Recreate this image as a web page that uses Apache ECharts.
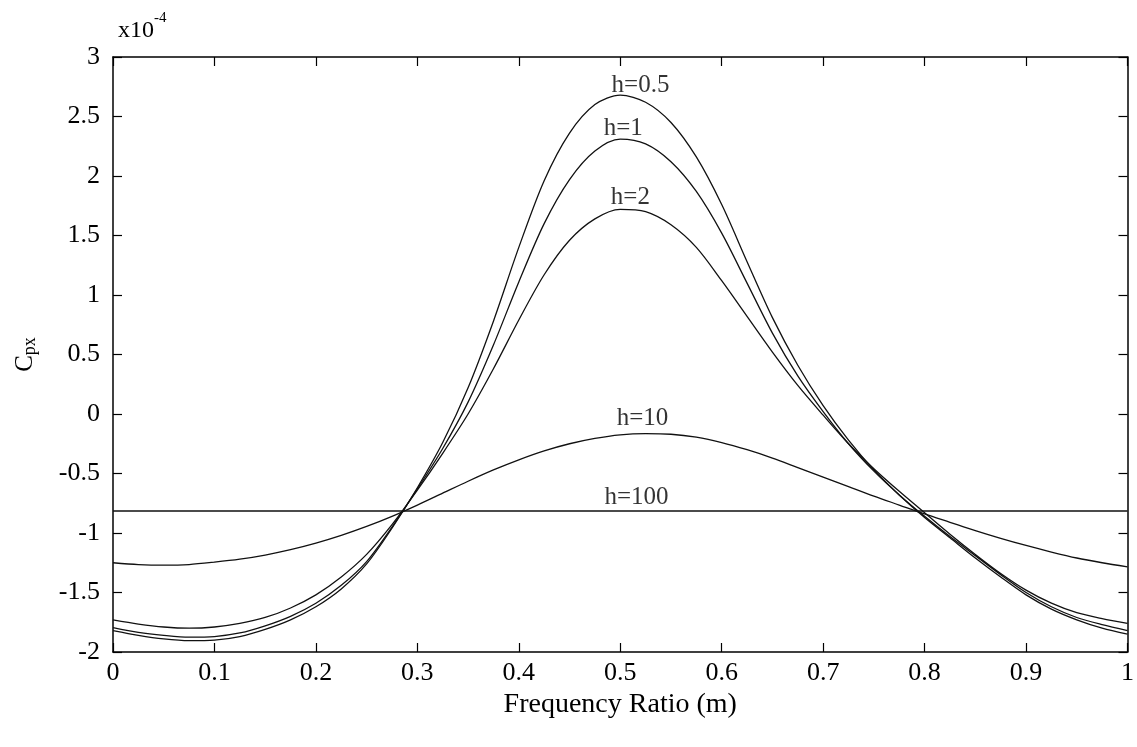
<!DOCTYPE html>
<html>
<head>
<meta charset="utf-8">
<script src="https://cdn.jsdelivr.net/npm/echarts@6/dist/echarts.min.js"></script>
<style>
html,body{margin:0;padding:0;background:#fff;}
#chart{width:1137px;height:747px;}
</style>
</head>
<body>
<div id="chart"></div>
<script>
// Frequency ratio (m)
const xs = [0,0.025,0.05,0.075,0.1,0.125,0.15,0.175,0.2,0.225,0.25,0.275,0.3,0.325,0.35,0.375,0.4,0.425,0.45,0.475,0.5,
            0.525,0.55,0.575,0.6,0.625,0.65,0.675,0.7,0.725,0.75,0.775,0.8,0.825,0.85,0.875,0.9,0.925,0.95,0.975,1];
// Cpx (x10^-4) for each h
const h05 = [-1.82,-1.86,-1.89,-1.905,-1.90,-1.87,-1.81,-1.73,-1.62,-1.47,-1.26,-0.96,-0.62,-0.24,0.22,0.78,1.40,1.96,2.36,2.60,2.68,
             2.62,2.45,2.16,1.76,1.28,0.81,0.41,0.07,-0.22,-0.47,-0.68,-0.87,-1.04,-1.21,-1.37,-1.52,-1.64,-1.73,-1.80,-1.85];
const h1  = [-1.795,-1.835,-1.86,-1.875,-1.87,-1.84,-1.78,-1.70,-1.59,-1.44,-1.24,-0.95,-0.63,-0.29,0.10,0.58,1.11,1.60,1.97,2.21,2.31,
             2.27,2.12,1.87,1.52,1.10,0.68,0.32,0.02,-0.25,-0.48,-0.68,-0.86,-1.03,-1.19,-1.35,-1.50,-1.62,-1.71,-1.77,-1.82];
const h2  = [-1.73,-1.765,-1.79,-1.80,-1.79,-1.76,-1.71,-1.63,-1.52,-1.37,-1.18,-0.93,-0.64,-0.33,0.00,0.38,0.79,1.17,1.46,1.64,1.72,
             1.70,1.59,1.40,1.12,0.82,0.52,0.24,-0.01,-0.25,-0.46,-0.65,-0.83,-1.01,-1.18,-1.34,-1.48,-1.59,-1.67,-1.72,-1.76];
const h10 = [-1.25,-1.265,-1.27,-1.265,-1.245,-1.22,-1.185,-1.14,-1.085,-1.02,-0.945,-0.86,-0.765,-0.665,-0.565,-0.47,-0.385,-0.31,-0.25,-0.205,-0.175,
             -0.165,-0.17,-0.195,-0.24,-0.30,-0.37,-0.45,-0.53,-0.61,-0.69,-0.765,-0.84,-0.91,-0.98,-1.045,-1.105,-1.16,-1.21,-1.25,-1.285];
const h100 = [-0.815,-0.815,-0.815,-0.815,-0.815,-0.815,-0.815,-0.815,-0.815,-0.815,-0.815,-0.815,-0.815,-0.815,-0.815,-0.815,-0.815,-0.815,-0.815,-0.815,-0.815,
              -0.815,-0.815,-0.815,-0.815,-0.815,-0.815,-0.815,-0.815,-0.815,-0.815,-0.815,-0.815,-0.815,-0.815,-0.815,-0.815,-0.815,-0.815,-0.815,-0.815];
// Curve labels
const labelNames = ['h=0.5','h=1','h=2','h=10','h=100'];
const labelX = [0.52,0.503,0.51,0.522,0.516];
const labelY = [2.76,2.40,1.82,-0.04,-0.70];
// Axis ticks
const xMin = 0, xMax = 1, xStep = 0.1;
const yMin = -2, yMax = 3, yStep = 0.5;

const FONT = '"Liberation Serif", "Times New Roman", serif';
const chart = echarts.init(document.getElementById('chart'));

function pairs(ys){ return xs.map((x,i)=>[x, ys[i]]); }
function curve(name, ys){
  return {
    name, type:'line', data: pairs(ys), showSymbol:false, smooth:0.3,
    lineStyle:{color:'#111', width:1.3}, xAxisIndex:0, yAxisIndex:0,
    animation:false, z:3
  };
}

const axisLine = {show:true, onZero:false, lineStyle:{color:'#000', width:1.5}};
const tick = {show:true, inside:true, length:9, lineStyle:{color:'#000', width:1.2}};

chart.setOption({
  animation:false,
  backgroundColor:'#fff',
  grid:{left:113, right:5, top:57, bottom:95, containLabel:false},
  xAxis:[
    {type:'value', min:xMin, max:xMax, interval:xStep, position:'bottom',
     axisLine, axisTick:tick, splitLine:{show:false},
     axisLabel:{color:'#000', fontFamily:FONT, fontSize:26, margin:8},
     name:'Frequency Ratio (m)', nameLocation:'middle', nameGap:37,
     nameTextStyle:{color:'#000', fontFamily:FONT, fontSize:28}},
    {type:'value', min:xMin, max:xMax, interval:xStep, position:'top',
     axisLine, axisTick:tick, axisLabel:{show:false}, splitLine:{show:false}}
  ],
  yAxis:[
    {type:'value', min:yMin, max:yMax, interval:yStep, position:'left',
     axisLine, axisTick:tick, splitLine:{show:false},
     axisLabel:{color:'#000', fontFamily:FONT, fontSize:26, margin:13},
     name:'{c|C}{s|px}', nameLocation:'middle', nameGap:74, nameRotate:90,
     nameTextStyle:{color:'#000', fontFamily:FONT,
       rich:{c:{fontSize:25, fontFamily:FONT, color:'#000'},
             s:{fontSize:18, fontFamily:FONT, color:'#000', verticalAlign:'bottom', padding:[10,0,0,0]}}}},
    {type:'value', min:yMin, max:yMax, interval:yStep, position:'right',
     axisLine, axisTick:tick, axisLabel:{show:false}, splitLine:{show:false}}
  ],
  graphic:[
    {type:'text', left:118, top:11,
     style:{text:'{a|x10}{b|-4}', fill:'#000',
       rich:{a:{fontSize:24, fontFamily:FONT, fill:'#000', padding:[8,0,0,0]},
             b:{fontSize:15, fontFamily:FONT, fill:'#000', verticalAlign:'top'}}}}
  ],
  series:[
    curve('h=0.5', h05),
    curve('h=1', h1),
    curve('h=2', h2),
    curve('h=10', h10),
    curve('h=100', h100),
    {type:'scatter', symbolSize:0, silent:true, animation:false, z:5,
     data: labelNames.map((n,i)=>({value:[labelX[i], labelY[i]], name:n})),
     label:{show:true, position:'inside', formatter:p=>p.name, color:'#000',
       fontFamily:FONT, fontSize:25}}
  ]
});
</script>
</body>
</html>
